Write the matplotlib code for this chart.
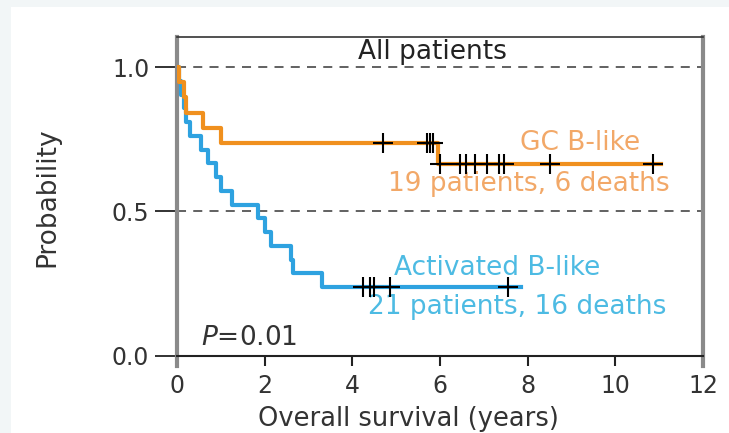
import numpy as np
import matplotlib
matplotlib.use("Agg")
import matplotlib.pyplot as plt
from matplotlib.patches import Rectangle

# survival data (years)
gc_deaths = [0.05, 0.15, 0.2, 0.6, 1.0, 5.95]
gc_censored = [4.7, 5.7, 5.78, 5.85, 6.0, 6.45, 6.6, 6.8, 7.08, 7.35, 7.45, 8.5, 10.85]
gc_end = 11.05

abc_deaths = [0.05, 0.1, 0.15, 0.2, 0.3, 0.55, 0.7, 0.9, 1.0, 1.25,
              1.85, 2.0, 2.15, 2.6, 2.65, 3.3]
abc_censored = [4.25, 4.4, 4.5, 4.85, 7.55]
abc_end = 7.85

x_ticks = [0, 2, 4, 6, 8, 10, 12]
y_ticks = [0.0, 0.5, 1.0]

ORANGE = "#F0901E"
BLUE = "#2EA2E0"


def kaplan_meier(deaths, censored, end):
    """step coordinates and censor mark heights"""
    events = sorted([(t, 1) for t in deaths] + [(t, 0) for t in censored])
    n = len(events)
    s = 1.0
    xs, ys = [0.0], [1.0]
    cx, cy = [], []
    for t, d in events:
        if d:
            s = s * (n - 1) / n
            xs.append(t)
            ys.append(s)
        else:
            cx.append(t)
            cy.append(s)
        n -= 1
    xs.append(end)
    ys.append(s)
    return xs, ys, cx, cy


def main():
    plt.rcParams['font.family'] = ['DejaVu Sans']
    fig = plt.figure(figsize=(7.29, 4.33), dpi=100, facecolor="#F2F6F7")
    fig.patches.append(Rectangle((11 / 729, 0), 1, 1 - 7 / 433,
                                 transform=fig.transFigure,
                                 facecolor="white", edgecolor="none", zorder=-10))
    ax = fig.add_axes([177 / 729, 1 - 366 / 433, (703 - 177) / 729, (366 - 37) / 433])
    ax.set_facecolor("white")

    for deaths, cens, end, col in [(abc_deaths, abc_censored, abc_end, BLUE),
                                   (gc_deaths, gc_censored, gc_end, ORANGE)]:
        xs, ys, cx, cy = kaplan_meier(deaths, cens, end)
        ax.step(xs, ys, where='post', color=col, lw=3, zorder=3)
        ax.plot(cx, cy, ls='none', marker='+', ms=14, mew=1.5,
                color='black', zorder=4)

    for y in [1.0, 0.5]:
        ax.axhline(y, color='#555555', lw=1.3, ls=(0, (5, 4)), zorder=1)

    ax.set_xlim(0, 12)
    ax.set_ylim(-0.035, 1.104)
    ax.spines['bottom'].set_position(('data', 0))
    for side in ['left', 'right']:
        ax.spines[side].set_color('#8a8a8a')
        ax.spines[side].set_linewidth(3)
    ax.spines['top'].set_color('#333333')
    ax.spines['top'].set_linewidth(1.2)
    ax.spines['bottom'].set_color('#222222')
    ax.spines['bottom'].set_linewidth(1.5)

    ax.set_xticks(x_ticks)
    ax.set_xticklabels([str(v) for v in x_ticks])
    ax.set_yticks(y_ticks)
    ax.set_yticklabels([f"{v:.1f}" for v in y_ticks])
    ax.tick_params(axis='x', direction='out', length=7, width=1.5,
                   color='#222222', labelsize=17, labelcolor='#333333', pad=6)
    ax.tick_params(axis='y', direction='out', length=16, width=1.3,
                   color='#222222', labelsize=17, labelcolor='#333333', pad=4)
    ax.xaxis.get_ticklines()[0].set_visible(False)
    ax.xaxis.get_ticklines()[-2].set_visible(False)

    ax.set_xlabel('Overall survival (years)', fontsize=18.5, color='#333333')
    ax.xaxis.label.set_va('baseline')
    ax.xaxis.set_label_coords(0.44, -0.182)
    ax.set_ylabel('Probability', fontsize=19, color='#333333',
                  family=['Liberation Sans Narrow', 'DejaVu Sans'])
    ax.yaxis.set_label_coords(-0.222, 0.512)

    ax.text(5.83, 1.028, 'All patients', fontsize=19, color='#222222',
            ha='center', va='baseline')
    ax.text(9.2, 0.713, 'GC B-like', fontsize=19, color='#F2A868',
            ha='center', va='baseline')
    ax.text(8.02, 0.572, '19 patients, 6 deaths', fontsize=19, color='#F2A868',
            ha='center', va='baseline')
    ax.text(7.3, 0.28, 'Activated B-like', fontsize=19, color='#4DBBE3',
            ha='center', va='baseline')
    ax.text(7.76, 0.146, '21 patients, 16 deaths', fontsize=19, color='#4DBBE3',
            ha='center', va='baseline')
    ax.text(1.64, 0.038, r'$P$=0.01', fontsize=19, color='#333333',
            ha='center', va='baseline')

    fig.savefig('out.png', dpi=100, facecolor=fig.get_facecolor())


if __name__ == "__main__":
    main()
